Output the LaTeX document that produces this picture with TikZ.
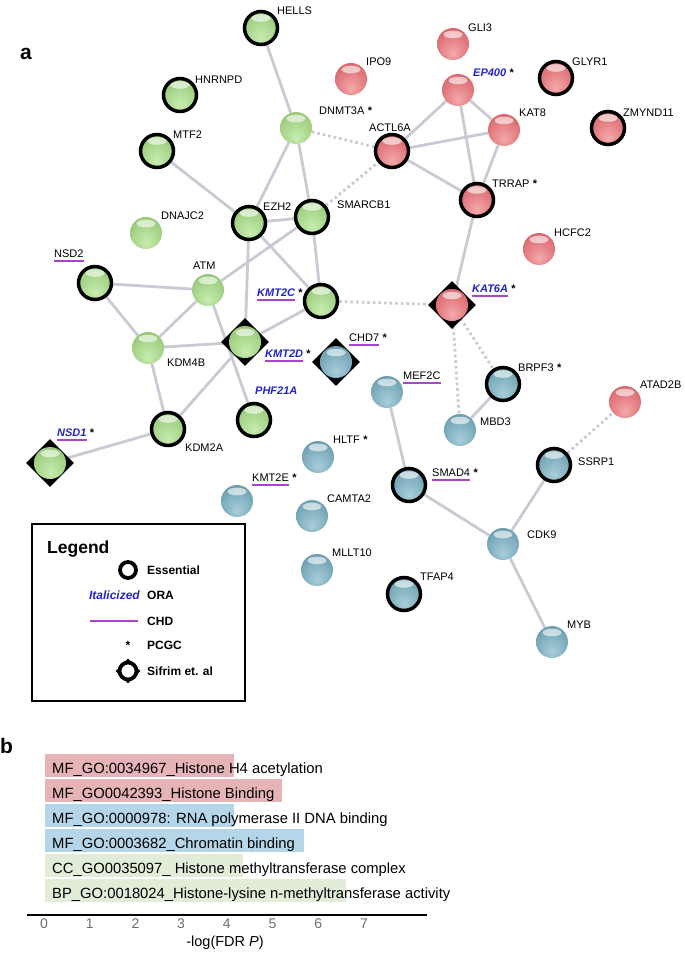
\documentclass[tikz,border=0pt]{standalone}
\usepackage{fontspec}
\setmainfont{Liberation Sans}
\usetikzlibrary{positioning,shapes.geometric}
\definecolor{gA}{RGB}{200,236,178}
\definecolor{gB}{RGB}{166,212,136}
\definecolor{gC}{RGB}{136,186,106}
\definecolor{gD}{RGB}{104,152,80}
\definecolor{rA}{RGB}{244,170,172}
\definecolor{rB}{RGB}{226,122,126}
\definecolor{rC}{RGB}{202,88,94}
\definecolor{rD}{RGB}{170,58,68}
\definecolor{bA}{RGB}{170,206,218}
\definecolor{bB}{RGB}{126,174,190}
\definecolor{bC}{RGB}{92,142,160}
\definecolor{bD}{RGB}{60,106,126}
\definecolor{linkgray}{RGB}{200,202,212}
\definecolor{orablue}{RGB}{35,35,205}
\definecolor{chdpurple}{RGB}{165,70,205}
\definecolor{barred}{RGB}{230,180,183}
\definecolor{barblue}{RGB}{180,214,232}
\definecolor{bargreen}{RGB}{226,237,217}
\definecolor{tickgray}{RGB}{110,110,110}
\pgfdeclareradialshading{gsphere}{\pgfpoint{0bp}{-16bp}}{color(0bp)=(gA); color(22bp)=(gB); color(40bp)=(gC); color(50bp)=(gD)}
\pgfdeclareradialshading{rsphere}{\pgfpoint{0bp}{-16bp}}{color(0bp)=(rA); color(22bp)=(rB); color(40bp)=(rC); color(50bp)=(rD)}
\pgfdeclareradialshading{bsphere}{\pgfpoint{0bp}{-16bp}}{color(0bp)=(bA); color(22bp)=(bB); color(40bp)=(bC); color(50bp)=(bD)}
\pgfdeclarelayer{bg}
\pgfsetlayers{bg,main}

\begin{document}
\begin{tikzpicture}[x=1pt, y=-1pt,
  ball/.style={circle, minimum size=32pt, inner sep=0pt,
               path picture={\fill[white, opacity=0.6] ([yshift=-6.5pt]path picture bounding box.north) ellipse (9.5 and 3.8);}},
  gball/.style={ball, shading=gsphere},
  rball/.style={ball, shading=rsphere},
  bball/.style={ball, shading=bsphere},
  ess/.style={draw=black, line width=3.5pt, minimum size=33pt},
  sifd/.style={diamond, fill=black, minimum size=48pt, inner sep=0pt},
  lbl/.style={font=\fontsize{11}{13}\selectfont, inner sep=0pt, anchor=base west},
  ora/.style={lbl, text=orablue, font=\fontsize{11}{13}\selectfont\bfseries\itshape},
  chd/.style={append after command={([yshift=-4pt]\tikzlastnode.base west) edge[draw=chdpurple, line width=1.1pt] ([yshift=-4pt]\tikzlastnode.base east)}},
  pcgc/.style={lbl, font=\fontsize{11}{13}\selectfont\bfseries},
  link/.style={draw=linkgray, line width=2.8pt},
  dlink/.style={link, dash pattern=on 2.6pt off 3pt},
  lgd/.style={font=\fontsize{12}{14}\selectfont\bfseries, inner sep=0pt, anchor=base west},
  bartxt/.style={font=\fontsize{14.8}{17}\selectfont, inner sep=0pt, anchor=base west}
]
\useasboundingbox (0,0) rectangle (685,956);

% Panel letters
\node[font=\fontsize{21}{24}\selectfont\bfseries, inner sep=0pt, anchor=base west] (pa) at (20,59) {a};
\node[font=\fontsize{21}{24}\selectfont\bfseries, inner sep=0pt, anchor=base west] (pb) at (0,753) {b};

% Green cluster
\node[gball, ess] (hells)   at (261,28)  {};
\node[gball, ess] (hnrnpd)  at (180,95)  {};
\node[gball, ess] (mtf2)    at (157,151) {};
\node[gball]      (dnmt3a)  at (296,128) {};
\node[gball]      (dnajc2)  at (146,233) {};
\node[gball, ess] (ezh2)    at (249,223) {};
\node[gball, ess] (smarcb1) at (312,217) {};
\node[gball, ess] (nsd2)    at (95,283)  {};
\node[gball]      (atm)     at (208,290) {};
\node[gball, ess] (kmt2c)   at (321,301) {};
\node[gball]      (kdm4b)   at (148,348) {};
\node[sifd]       (kmt2d-d) at (245,342) {};
\node[gball]      (kmt2d)   at (kmt2d-d) {};
\node[gball, ess] (phf21a)  at (254,420) {};
\node[gball, ess] (kdm2a)   at (168,429) {};
\node[sifd]       (nsd1-d)  at (50,463)  {};
\node[gball]      (nsd1)    at (nsd1-d)  {};

% Red cluster
\node[rball]      (gli3)    at (453,44)  {};
\node[rball]      (ipo9)    at (351,79)  {};
\node[rball]      (ep400)   at (458,90)  {};
\node[rball, ess] (glyr1)   at (556,78)  {};
\node[rball, ess] (zmynd11) at (608,128) {};
\node[rball]      (kat8)    at (504,130) {};
\node[rball, ess] (actl6a)  at (392,151) {};
\node[rball, ess] (trrap)   at (477,200) {};
\node[rball]      (hcfc2)   at (539,249) {};
\node[sifd]       (kat6a-d) at (452,305) {};
\node[rball]      (kat6a)   at (kat6a-d) {};
\node[rball]      (atad2b)  at (625,402) {};

% Blue cluster
\node[sifd]       (chd7-d)  at (336,362) {};
\node[bball]      (chd7)    at (chd7-d)  {};
\node[bball]      (mef2c)   at (387,392) {};
\node[bball, ess] (brpf3)   at (503,384) {};
\node[bball]      (mbd3)    at (460,430) {};
\node[bball]      (hltf)    at (318,457) {};
\node[bball, ess] (ssrp1)   at (554,465) {};
\node[bball, ess] (smad4)   at (409,485) {};
\node[bball]      (kmt2e)   at (237,501) {};
\node[bball]      (camta2)  at (312,516) {};
\node[bball]      (mllt10)  at (317,570) {};
\node[bball, ess] (tfap4)   at (404,594) {};
\node[bball]      (cdk9)    at (503,544) {};
\node[bball]      (myb)     at (552,642) {};

% Links
\begin{pgfonlayer}{bg}
\foreach \a/\b in {hells/dnmt3a, dnmt3a/ezh2, dnmt3a/smarcb1, mtf2/ezh2, ezh2/smarcb1,
    ezh2/kmt2d, ezh2/kmt2c, smarcb1/kmt2c, smarcb1/atm, nsd2/atm, nsd2/kdm4b, atm/kdm4b,
    atm/phf21a, kdm4b/kmt2d, kdm4b/kdm2a, kmt2d/kmt2c, kmt2d/kdm2a, kdm2a/nsd1,
    actl6a/ep400, actl6a/kat8, actl6a/trrap, ep400/kat8, ep400/trrap, kat8/trrap,
    trrap/kat6a, mef2c/smad4, brpf3/mbd3, smad4/cdk9, ssrp1/cdk9, cdk9/myb}
  \draw[link] (\a) -- (\b);
\foreach \a/\b in {dnmt3a/actl6a, smarcb1/actl6a, kmt2c/kat6a, kat6a/mbd3, kat6a/brpf3, ssrp1/atad2b}
  \draw[dlink] (\a) -- (\b);
\end{pgfonlayer}

% Gene labels
\node[lbl]      (lhells)   at (277,14)  {HELLS};
\node[lbl]      (lhnrnpd)  at (195,83)  {HNRNPD};
\node[lbl]      (lmtf2)    at (173,138) {MTF2};
\node[lbl]      (ldnmt3a)  at (319,114) {DNMT3A};
\node[lbl]      (ldnajc2)  at (161,219) {DNAJC2};
\node[lbl]      (lezh2)    at (263,210) {EZH2};
\node[lbl]      (lsmarcb1) at (337,208) {SMARCB1};
\node[lbl, chd] (lnsd2)    at (54,257)  {NSD2};
\node[lbl]      (latm)     at (193,269) {ATM};
\node[ora, chd] (lkmt2c)   at (257,296) {KMT2C};
\node[lbl]      (lkdm4b)   at (167,366) {KDM4B};
\node[ora, chd] (lkmt2d)   at (265,357) {KMT2D};
\node[ora]      (lphf21a)  at (255,394) {PHF21A};
\node[lbl]      (lkdm2a)   at (185,451) {KDM2A};
\node[ora, chd] (lnsd1)    at (57,436)  {NSD1};
\node[lbl]      (lgli3)    at (468,31)  {GLI3};
\node[lbl]      (lipo9)    at (366,65)  {IPO9};
\node[ora]      (lep400)   at (473,76)  {EP400};
\node[lbl]      (lglyr1)   at (572,65)  {GLYR1};
\node[lbl]      (lzmynd11) at (623,116) {ZMYND11};
\node[lbl]      (lkat8)    at (519,116) {KAT8};
\node[lbl]      (lactl6a)  at (369,131) {ACTL6A};
\node[lbl]      (ltrrap)   at (492,187) {TRRAP};
\node[lbl]      (lhcfc2)   at (554,236) {HCFC2};
\node[ora, chd] (lkat6a)   at (472,292) {KAT6A};
\node[lbl]      (latad2b)  at (640,388) {ATAD2B};
\node[lbl, chd] (lchd7)    at (349,341) {CHD7};
\node[lbl, chd] (lmef2c)   at (403,379) {MEF2C};
\node[lbl]      (lbrpf3)   at (518,371) {BRPF3};
\node[lbl]      (lmbd3)    at (480,425) {MBD3};
\node[lbl]      (lhltf)    at (333,443) {HLTF};
\node[lbl]      (lssrp1)   at (578,465) {SSRP1};
\node[lbl, chd] (lsmad4)   at (432,476) {SMAD4};
\node[lbl, chd] (lkmt2e)   at (252,481) {KMT2E};
\node[lbl]      (lcamta2)  at (327,502) {CAMTA2};
\node[lbl]      (lmllt10)  at (332,556) {MLLT10};
\node[lbl]      (ltfap4)   at (420,580) {TFAP4};
\node[lbl]      (lcdk9)    at (527,538) {CDK9};
\node[lbl]      (lmyb)     at (567,628) {MYB};

% PCGC stars
\foreach \n in {ldnmt3a, lkmt2c, lkmt2d, lnsd1, lep400, ltrrap, lkat6a, lchd7, lbrpf3, lhltf, lsmad4, lkmt2e}
  \node[pcgc, right=3pt of \n.base east, anchor=base west] (\n-s) {*};

% Legend
\node[draw, line width=2pt, minimum width=213pt, minimum height=177pt, inner sep=0pt] (lgdbox) at (138.5,612.5) {};
\node[font=\fontsize{17.5}{20}\selectfont\bfseries, inner sep=0pt, anchor=base west] (lgdtitle) at (47,553) {Legend};
\node[circle, draw=black, line width=3.8pt, minimum size=16pt, inner sep=0pt] (lgdess) at (128,570) {};
\node[lgd] (tess) at (147,574) {Essential};
\node[lgd, text=orablue, font=\fontsize{12}{14}\selectfont\bfseries\itshape, anchor=base east] (lgdora) at (140,599) {Italicized};
\node[lgd] (tora) at (147,599) {ORA};
\coordinate (lgdchd1) at (90,621);
\coordinate (lgdchd2) at (138,621);
\draw[chdpurple, line width=1.2pt] (lgdchd1) -- (lgdchd2);
\node[lgd] (tchd) at (147,625) {CHD};
\node[lgd, anchor=base] (lgdstar) at (128,649) {*};
\node[lgd] (tpcgc) at (147,649) {PCGC};
\node[diamond, fill=black, minimum size=25pt, inner sep=0pt] (lgdsifd) at (128,671) {};
\node[circle, fill=white, draw=black, line width=3.8pt, minimum size=17pt, inner sep=0pt] (lgdsif) at (128,671) {};
\node[lgd] (tsif) at (147,675) {Sifrim et. al};

% Enrichment bars
\foreach \len/\col/\txt [count=\i from 0] in {
    4.15/barred/MF\_GO:0034967\_Histone H4 acetylation,
    5.2/barred/MF\_GO0042393\_Histone Binding,
    4.15/barblue/MF\_GO:0000978: RNA polymerase II DNA binding,
    5.7/barblue/MF\_GO:0003682\_Chromatin binding,
    4.35/bargreen/CC\_GO0035097\_ Histone methyltransferase complex,
    6.6/bargreen/BP\_GO:0018024\_Histone-lysine n-methyltransferase activity}
{
  \fill[\col] (45,754+25*\i) rectangle (44+45.7*\len,777+25*\i);
  \node[bartxt] (go\i) at (52,773+25*\i) {\txt};
}

% Axis
\coordinate (ax0) at (27,915);
\coordinate (ax1) at (427,915);
\draw[line width=1.3pt] (ax0) -- (ax1);
\foreach \t in {0,...,7}
  \node[font=\fontsize{14}{16}\selectfont, text=tickgray, inner sep=0pt] (tk\t) at (44+45.7*\t,924) {\t};
\node[font=\fontsize{14.5}{17}\selectfont, inner sep=0pt] (xlab) at (225,943) {-log(FDR \textit{P})};
\end{tikzpicture}
\end{document}
